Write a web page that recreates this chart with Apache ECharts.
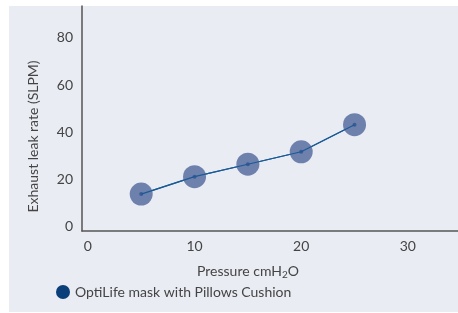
<!DOCTYPE html>
<html><head><meta charset="utf-8">
<script src="https://cdn.jsdelivr.net/npm/echarts@6/dist/echarts.min.js"></script>
<style>html,body{margin:0;padding:0;background:#fff;}#c{width:458px;height:313px;}</style>
</head><body><div id="c"></div>
<script>
const pressure = [5, 10, 15, 20, 25];
const leakRate = [13.6, 21.0, 26.3, 31.6, 43.1];
const xTicks = [0, 10, 20, 30];
const yTicks = [0, 20, 40, 60, 80];
const seriesName = 'OptiLife mask with Pillows Cushion';

const chart = echarts.init(document.getElementById('c'), null, {renderer: 'canvas'});
const FONT = 'Lato, "Open Sans", sans-serif';
chart.setOption({
  animation: false,
  backgroundColor: '#fff',
  graphic: [{type: 'rect', z: -10, shape: {x: 9, y: 6, width: 449, height: 306}, style: {fill: '#eaecf4'}}],
  grid: {left: 82, right: 0, top: 6, bottom: 82, containLabel: false},
  xAxis: {
    type: 'value', min: -0.55, max: 34.7,
    axisLine: {show: true, onZero: false, lineStyle: {color: '#555', width: 1.5}},
    axisTick: {show: false}, splitLine: {show: false},
    axisLabel: {customValues: xTicks, color: '#444', fontSize: 14, fontFamily: FONT, margin: 8},
    name: 'Pressure cmH{s|2}O', nameLocation: 'middle', nameGap: 31,
    nameTextStyle: {color: '#444', fontSize: 14, fontFamily: FONT, padding: [0, 44, 0, 0],
      rich: {s: {fontSize: 10, fontFamily: FONT, color: '#444', padding: [8, 0, 0, 0]}}}
  },
  yAxis: {
    type: 'value', min: -2.1, max: 93.6,
    axisLine: {show: true, onZero: false, lineStyle: {color: '#555', width: 1.5}},
    axisTick: {show: false}, splitLine: {show: false},
    axisLabel: {customValues: yTicks, color: '#444', fontSize: 14, fontFamily: FONT, margin: 9},
    name: 'Exhaust leak rate (SLPM)', nameLocation: 'middle', nameGap: 42, nameRotate: 90,
    nameTextStyle: {color: '#444', fontSize: 14, fontFamily: FONT, padding: [0, 36, 0, 0]}
  },
  legend: {
    left: 51, top: 280, itemWidth: 14, itemHeight: 14, icon: 'circle', itemGap: 10,
    textStyle: {color: '#444', fontSize: 14, fontFamily: FONT},
    data: [{name: seriesName, itemStyle: {color: '#0b3f7a'}}]
  },
  series: [
    {
      name: seriesName, type: 'line', data: pressure.map((p, i) => [p, leakRate[i]]),
      symbol: 'circle', symbolSize: 23,
      lineStyle: {color: '#1a5a96', width: 1.2},
      itemStyle: {color: '#6e81ad'}, z: 2
    },
    {
      name: 'dots', type: 'scatter', data: pressure.map((p, i) => [p, leakRate[i]]),
      symbol: 'circle', symbolSize: 4, itemStyle: {color: '#2a5490'}, z: 5, silent: true
    },
    {
      name: 'line2', type: 'line', data: pressure.map((p, i) => [p, leakRate[i]]),
      symbol: 'none', lineStyle: {color: '#1a5a96', width: 1.2}, z: 4, silent: true
    }
  ]
});
</script></body></html>
